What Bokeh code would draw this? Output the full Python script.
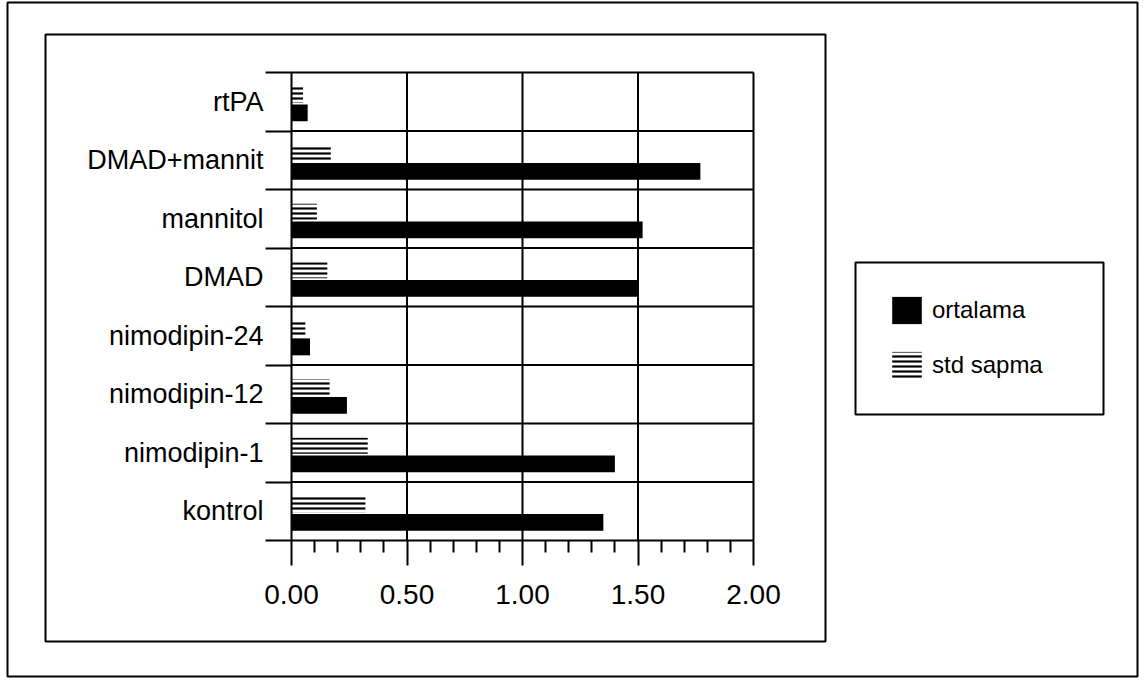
from bokeh.plotting import figure
from bokeh.models import (FixedTicker, NumeralTickFormatter, BoxAnnotation,
                          Legend, LegendItem, Range1d, LinearAxis)
from bokeh.embed import file_html
from bokeh.resources import INLINE

# ---- data ----
categories = ["kontrol", "nimodipin-1", "nimodipin-12", "nimodipin-24",
              "DMAD", "mannitol", "DMAD+mannit", "rtPA"]
ortalama = [1.35, 1.40, 0.24, 0.08, 1.50, 1.52, 1.77, 0.07]
std_sapma = [0.32, 0.33, 0.165, 0.06, 0.155, 0.11, 0.17, 0.05]
x_major_ticks = [0.0, 0.5, 1.0, 1.5, 2.0]
x_minor_ticks = [0.1, 0.2, 0.3, 0.4, 0.6, 0.7, 0.8, 0.9,
                 1.1, 1.2, 1.3, 1.4, 1.6, 1.7, 1.8, 1.9]

FONT = "Liberation Sans"

# ---- layout (pixels on the canvas) ----
W, H = 1142, 679
PX_X0, PX_X1 = 291, 753      # pixel of x=0 and x=2
PX_Y0, PX_Y1 = 540, 72       # pixel of bottom and top of bands
X_LO, X_HI = x_major_ticks[0], x_major_ticks[-1]
N = len(categories)

ppx = (PX_X1 - PX_X0) / (X_HI - X_LO)
ppy = (PX_Y0 - PX_Y1) / N
x_range = Range1d(X_LO - PX_X0 / ppx, X_HI + (W - PX_X1) / ppx)
y_range = Range1d(0 - (H - PX_Y0) / ppy, N + PX_Y1 / ppy)

idx = list(range(N))
y_mean = [i + 0.31 for i in idx]
y_std = [i + 0.62 for i in idx]

p = figure(width=W, height=H, x_range=x_range, y_range=y_range,
           x_axis_type=None, y_axis_type=None,
           output_backend="svg", toolbar_location=None,
           min_border=0)
p.min_border_left = 0
p.min_border_right = 0
p.min_border_top = 0
p.min_border_bottom = 0
p.background_fill_color = "white"
p.border_fill_color = "white"
p.outline_line_color = None

# grid lines and plot-area border (at the axis ticks / band edges)
grid_x = [t for t in x_major_ticks if t > X_LO]
grid_y = [i for i in range(1, N + 1)]
p.segment(x0=grid_x, y0=[0] * len(grid_x), x1=grid_x, y1=[N] * len(grid_x),
          line_color="black", line_width=2)
p.segment(x0=[X_LO] * len(grid_y), y0=grid_y, x1=[X_HI] * len(grid_y), y1=grid_y,
          line_color="black", line_width=2)

# bars
r_mean = p.hbar(y=y_mean, left=0, right=ortalama, height=0.29,
                fill_color="black", line_color=None)
r_std = p.hbar(y=y_std, left=0, right=std_sapma, height=0.27,
               fill_color=None, line_color=None,
               hatch_pattern="horizontal_line", hatch_color="black",
               hatch_scale=5, hatch_weight=2.2)

# x axis
xa = LinearAxis(fixed_location=0, bounds=(X_LO, X_HI))
xa.ticker = FixedTicker(ticks=x_major_ticks, minor_ticks=x_minor_ticks)
xa.formatter = NumeralTickFormatter(format="0.00")
xa.axis_line_color = "black"
xa.axis_line_width = 2
xa.major_tick_line_color = "black"
xa.major_tick_line_width = 2
xa.major_tick_out = 25
xa.major_tick_in = 0
xa.minor_tick_line_color = "black"
xa.minor_tick_line_width = 2
xa.minor_tick_out = 12
xa.minor_tick_in = 0
xa.major_label_text_font = FONT
xa.major_label_text_font_size = "28px"
xa.major_label_text_color = "black"
xa.major_label_standoff = 19
p.add_layout(xa, "below")

# y axis: labels at band centres, tick marks at band boundaries
ya = LinearAxis(fixed_location=0, bounds=(0, N))
ya.ticker = FixedTicker(ticks=[i + 0.5 for i in idx],
                        minor_ticks=[i for i in range(N + 1)])
ya.major_label_overrides = {i + 0.5: c for i, c in zip(idx, categories)}
ya.axis_line_color = "black"
ya.axis_line_width = 2
ya.major_tick_out = 0
ya.major_tick_in = 0
ya.major_tick_line_color = None
ya.minor_tick_line_color = "black"
ya.minor_tick_line_width = 2
ya.minor_tick_out = 26
ya.minor_tick_in = 0
ya.major_label_text_font = FONT
ya.major_label_text_font_size = "27px"
ya.major_label_text_color = "black"
ya.major_label_standoff = 2
p.add_layout(ya, "left")

# frames (outer border, chart area border, legend box)
for (l, t, r, b) in [(7, 2, 1137, 676), (45, 34, 825, 641), (855, 262, 1103, 414)]:
    p.add_layout(BoxAnnotation(left=l, right=r, top=t, bottom=b,
                               left_units="canvas", right_units="canvas",
                               top_units="canvas", bottom_units="canvas",
                               fill_color=None, fill_alpha=0,
                               line_color="black", line_alpha=1.0,
                               line_width=2))

legend = Legend(items=[LegendItem(label="ortalama", renderers=[r_mean]),
                       LegendItem(label="std sapma", renderers=[r_std])],
                location=(888, H - 382), padding=0, margin=0,
                border_line_color=None, background_fill_alpha=0,
                glyph_width=37, glyph_height=34, label_height=34,
                spacing=21, label_standoff=7,
                label_text_font=FONT, label_text_font_size="24px",
                label_text_color="black")
p.add_layout(legend)

open("out.html", "w").write(file_html(p, INLINE))
